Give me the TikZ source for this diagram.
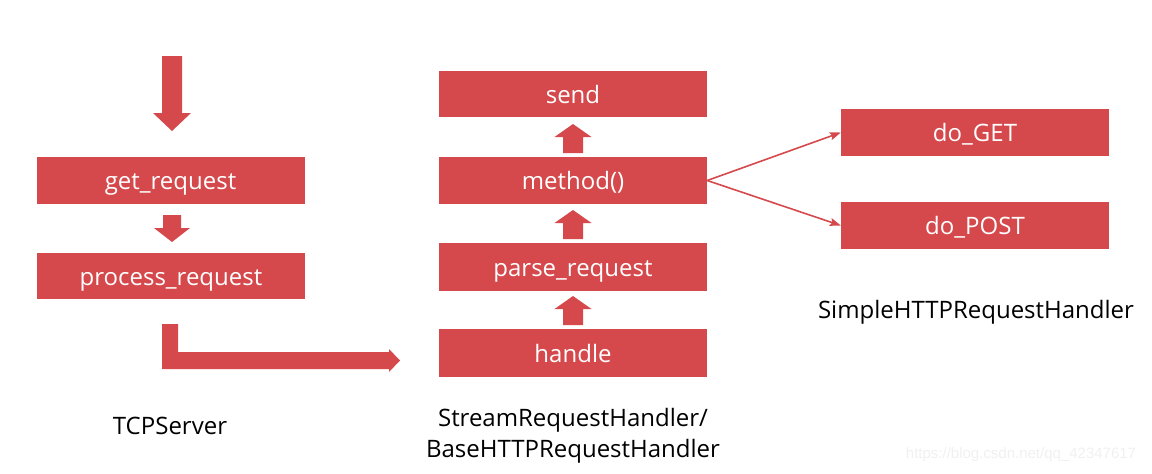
\documentclass[tikz,border=0pt]{standalone}
\usepackage{fontspec}
\setmainfont{Open Sans}
\newfontfamily\wmfont{Liberation Sans}
\usetikzlibrary{arrows.meta}
\definecolor{boxred}{RGB}{213,73,76}
\definecolor{wmgray}{RGB}{240,240,240}
\tikzset{
  redbox/.style={fill=boxred, draw=none, text=white, minimum width=268pt, minimum height=47pt, inner sep=0pt, text height=20pt, text depth=2pt, font=\fontsize{24}{28}\selectfont},
  caption/.style={text=black, inner sep=0pt, font=\fontsize{24}{31}\selectfont, align=center},
  thinarrow/.style={draw=boxred, line width=1.6pt, -{Stealth[length=11pt,width=8pt,inset=2pt]}},
  uparr/.pic={\fill[boxred] (0,0) -- (18.5,13) -- (10,13) -- (10,29) -- (-10,29) -- (-10,13) -- (-18.5,13) -- cycle;}
}
\begin{document}
\begin{tikzpicture}[x=1pt,y=-1pt]
\useasboundingbox (0,0) rectangle (1152,474);
% left column
\node[redbox] (get) at (170.5,180.5) {get\_request};
\node[redbox, minimum height=46pt] (process) at (171,276) {process\_request};
% top entry arrow
\fill[boxred] (162,56) -- (182,56) -- (182,113) -- (191,113) -- (172,131) -- (153,113) -- (162,113) -- cycle;
% get -> process
\fill[boxred] (163,215) -- (181,215) -- (181,228) -- (190,228) -- (172,242) -- (154,228) -- (163,228) -- cycle;
% bent arrow
\fill[boxred] (162,324) -- (178,324) -- (178,352) -- (389,352) -- (389,349) -- (400,360.5) -- (389,372) -- (389,369) -- (162,369) -- cycle;
% middle column
\node[redbox, minimum height=46pt] (send) at (573,94) {send};
\node[redbox] (method) at (573,180.5) {method()};
\node[redbox, minimum height=48pt] (parse) at (573,267) {parse\_request};
\node[redbox, minimum height=48pt] (handle) at (573,353) {handle};
\pic at (573,124) {uparr};
\pic at (573,210) {uparr};
\pic at (573,296) {uparr};
% right column
\node[redbox] (doget) at (975,132.5) {do\_GET};
\node[redbox] (dopost) at (975,225.5) {do\_POST};
\draw[thinarrow] (method.east) -- (doget.west);
\draw[thinarrow] (method.east) -- (dopost.west);
% captions
\node[caption] (tcp) at (170,426) {TCPServer};
\node[caption] (stream) at (573,436) {StreamRequestHandler/\\BaseHTTPRequestHandler};
\node[caption] (simple) at (976,312) {SimpleHTTPRequestHandler};
\node[text=wmgray, inner sep=0pt, font=\wmfont\fontsize{15}{18}\selectfont] (wm) at (1021,455) {https://blog.csdn.net/qq\_42347617};
\end{tikzpicture}
\end{document}
